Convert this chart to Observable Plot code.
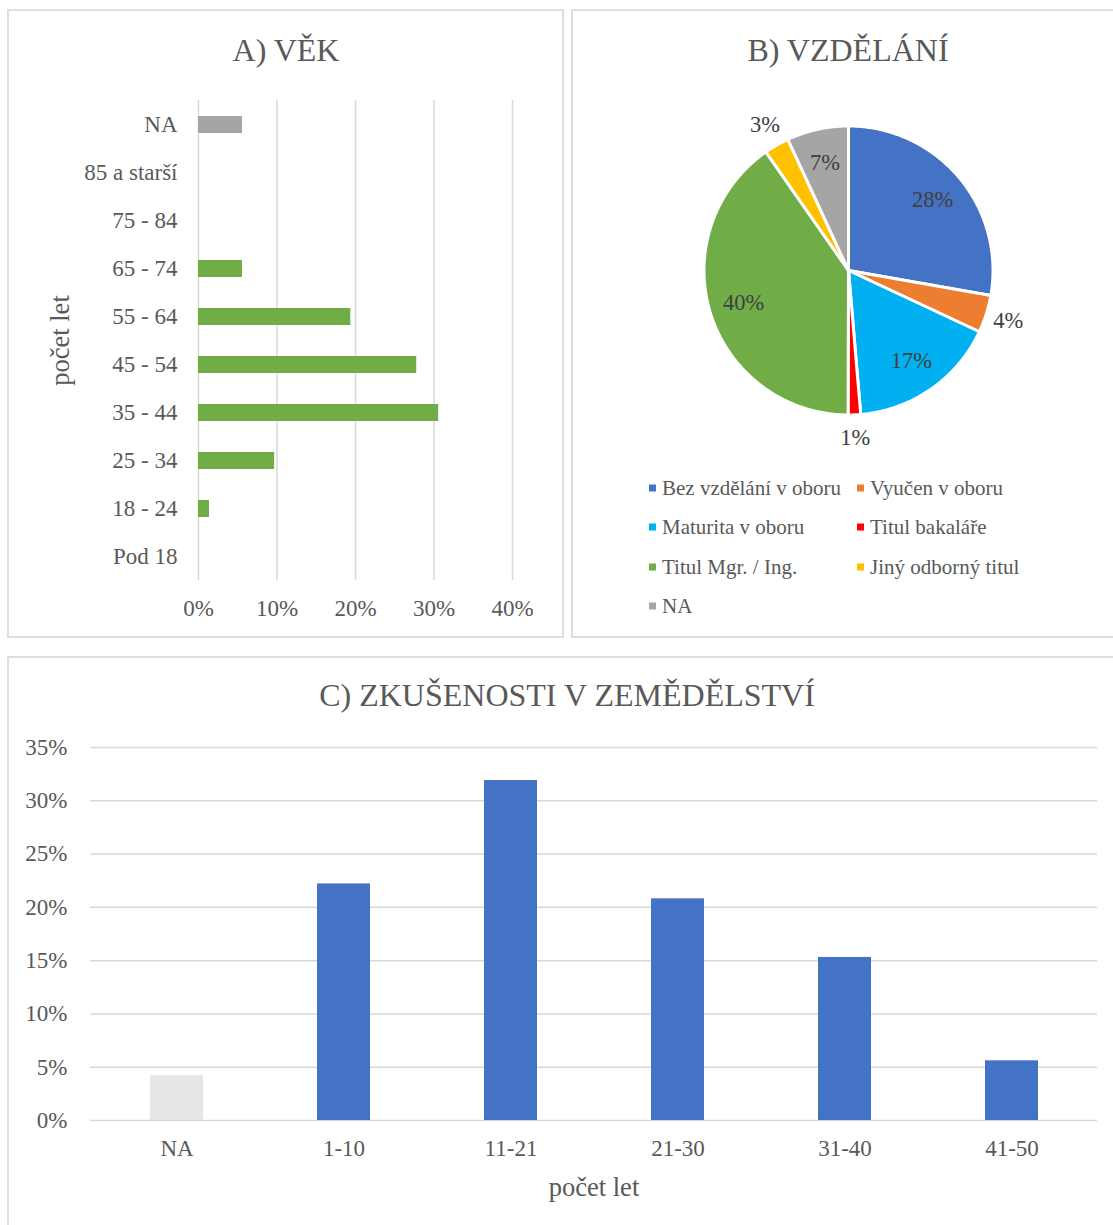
<!DOCTYPE html>
<html><head><meta charset="utf-8">
<script src="https://cdn.jsdelivr.net/npm/d3@7"></script>
<script src="https://cdn.jsdelivr.net/npm/@observablehq/plot@0.6"></script>
<style>
html,body{margin:0;padding:0;background:#fff;}
#root{position:relative;width:1113px;height:1225px;overflow:hidden;font-family:"Liberation Serif","Times New Roman",serif;color:#595959;}
.panel{position:absolute;border:2px solid #dedede;box-sizing:border-box;}
.title{position:absolute;font-size:32px;line-height:1;white-space:nowrap;transform:translate(-50%,-50%);}
.leg{position:absolute;font-size:21px;line-height:1;white-space:nowrap;transform:translateY(-50%);}
.sw{position:absolute;width:7px;height:7px;transform:translateY(-50%);}
svg{position:absolute;}
</style></head><body><div id="root"></div>
<script>
// ---- Data ----
const ageCategories = ["NA","85 a starší","75 - 84","65 - 74","55 - 64","45 - 54","35 - 44","25 - 34","18 - 24","Pod 18"];
const ageValues = [5.6, 0, 0, 5.6, 19.4, 27.8, 30.6, 9.7, 1.4, 0];
const ageTicks = [0, 10, 20, 30, 40];

const eduCategories = ["Bez vzdělání v oboru","Vyučen v oboru","Maturita v oboru","Titul bakaláře","Titul Mgr. / Ing.","Jiný odborný titul","NA"];
const eduValues = [27.8, 4.2, 16.7, 1.4, 40.3, 2.8, 6.9];
const eduLabels = ["28%","4%","17%","1%","40%","3%","7%"];
const eduColors = ["#4472c4","#ed7d31","#00b0f0","#ff0000","#70ad47","#ffc000","#a5a5a5"];

const expCategories = ["NA","1-10","11-21","21-30","31-40","41-50"];
const expValues = [4.2, 22.2, 31.9, 20.8, 15.3, 5.6];
const expTicks = [0, 5, 10, 15, 20, 25, 30, 35];

const root = document.getElementById("root");
const txt = "#595959";
const grid = "#d9d9d9";
const baseStyle = {fontFamily: "'Liberation Serif', 'Times New Roman', serif", fontSize: "23px", color: txt, background: "transparent", overflow: "visible"};

function place(el, left, top) { el.style.left = left + "px"; el.style.top = top + "px"; root.appendChild(el); return el; }
function div(cls, text, left, top) { const d = document.createElement("div"); d.className = cls; if (text != null) d.textContent = text; return place(d, left, top); }

// Panel borders
function panel(l, t, w, h) { const d = div("panel", null, l, t); d.style.width = w + "px"; d.style.height = h + "px"; }
panel(7, 9, 557, 629);
panel(571, 9, 560, 629);
panel(7, 656, 1124, 580);

// Titles
div("title", "A) VĚK", 286, 50);
div("title", "B) VZDĚLÁNÍ", 848, 50);
div("title", "C) ZKUŠENOSTI V ZEMĚDĚLSTVÍ", 567, 695);

// ---- A) age ----
const ageData = ageCategories.map((c, i) => ({cat: c, value: ageValues[i], fill: c === "NA" ? "#a5a5a5" : "#70ad47"}));
const plotA = Plot.plot({
  width: 555, height: 627,
  marginLeft: 190, marginRight: 51, marginTop: 90, marginBottom: 57,
  style: baseStyle,
  x: {domain: [0, 40]},
  y: {domain: ageCategories, paddingInner: 0.65, paddingOuter: 0.325},
  color: {type: "identity"},
  marks: [
    Plot.gridX(ageTicks, {stroke: grid, strokeOpacity: 1, strokeWidth: 1.5}),
    Plot.barX(ageData, {x: "value", y: "cat", fill: "fill"}),
    Plot.axisX(ageTicks, {tickSize: 0, tickPadding: 19, tickFormat: d => d + "%", label: null}),
    Plot.axisY({tickSize: 0, tickPadding: 21, label: null}),
    Plot.text(["počet let"], {frameAnchor: "left", dx: -138, rotate: -90, textAnchor: "middle", lineAnchor: "middle", fontSize: 26.5, fill: txt})
  ]
});
place(plotA, 8, 10);

// ---- B) education pie ----
const cx = 276, cy = 260, r = 144.5;
const arcs = d3.pie().sort(null).value(d => d)(eduValues);
const slicePts = [];
const labelPts = [];
arcs.forEach((a, i) => {
  const cat = eduCategories[i];
  const n = Math.max(2, Math.ceil((a.endAngle - a.startAngle) / 0.01));
  slicePts.push({cat, x: 0, y: 0});
  for (let k = 0; k <= n; k++) {
    const t = a.startAngle + (a.endAngle - a.startAngle) * k / n;
    slicePts.push({cat, x: Math.sin(t), y: Math.cos(t)});
  }
  slicePts.push({cat, x: 0, y: 0});
  const mid = (a.startAngle + a.endAngle) / 2;
  const lr = eduValues[i] < 5 ? 1.16 : 0.76;
  labelPts.push({text: eduLabels[i], x: lr * Math.sin(mid), y: lr * Math.cos(mid)});
});
const plotB = Plot.plot({
  width: 541, height: 627,
  style: baseStyle,
  x: {domain: [-1, 1], range: [cx - r, cx + r], axis: null},
  y: {domain: [-1, 1], range: [cy + r, cy - r], axis: null},
  color: {domain: eduCategories, range: eduColors},
  marks: [
    Plot.line(slicePts, {x: "x", y: "y", z: "cat", fill: "cat", stroke: "white", strokeWidth: 3, strokeLinejoin: "round"}),
    Plot.text(labelPts, {x: "x", y: "y", text: "text", fontSize: 22.5, fill: "#404040"})
  ]
});
place(plotB, 572, 10);

// Legend
const legCols = [649, 857];
const legRows = [488, 527, 567, 606];
eduCategories.forEach((c, i) => {
  const col = i % 2, row = Math.floor(i / 2);
  const sw = div("sw", null, legCols[col], legRows[row]);
  sw.style.background = eduColors[i];
  div("leg", c, legCols[col] + 13, legRows[row]);
});

// ---- C) experience ----
const expData = expCategories.map((c, i) => ({cat: c, value: expValues[i], fill: c === "NA" ? "#e6e6e6" : "#4472c4"}));
const plotC = Plot.plot({
  width: 1105, height: 568,
  marginLeft: 82, marginRight: 16, marginTop: 90, marginBottom: 105,
  style: baseStyle,
  x: {domain: expCategories, paddingInner: 0.685, paddingOuter: 0.3425},
  y: {domain: [0, 35]},
  color: {type: "identity"},
  marks: [
    Plot.gridY(expTicks, {stroke: grid, strokeOpacity: 1, strokeWidth: 1.5}),
    Plot.barY(expData, {x: "cat", y: "value", fill: "fill"}),
    Plot.axisY(expTicks, {tickSize: 0, tickPadding: 23, tickFormat: d => d + "%", label: null}),
    Plot.axisX({tickSize: 0, tickPadding: 19, label: null}),
    Plot.text(["počet let"], {frameAnchor: "bottom", dy: 67, lineAnchor: "middle", fontSize: 26.5, fill: txt})
  ]
});
place(plotC, 8, 657);
</script></body></html>
